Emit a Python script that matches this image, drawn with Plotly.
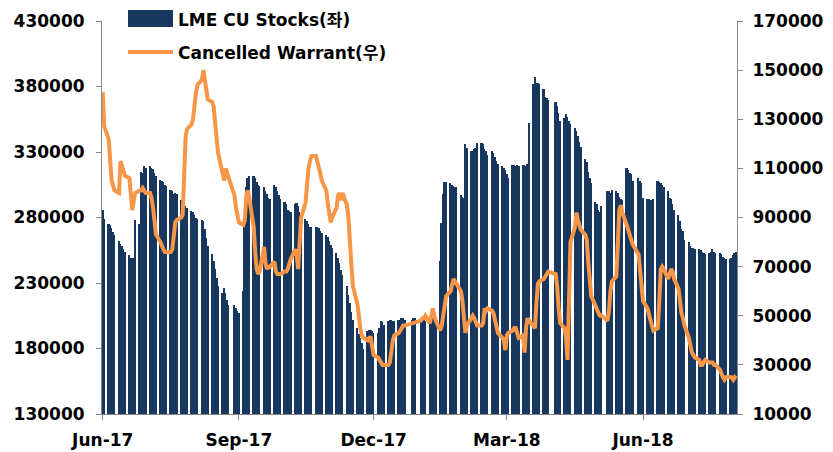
import pandas as pd
import plotly.graph_objects as go

# ---------------- data ----------------
START = "2017-06-01"
END = "2018-08-03"
# LME non-trading days inside the period
HOLIDAYS = ["2017-08-28", "2017-12-25", "2017-12-26", "2018-01-01",
            "2018-03-30", "2018-04-02", "2018-05-07", "2018-05-28"]

TICK_DATES = ["2017-06-01", "2017-09-01", "2017-12-01", "2018-03-01", "2018-06-01"]
TICK_LABELS = ["Jun-17", "Sep-17", "Dec-17", "Mar-18", "Jun-18"]
LEFT_TICKS = [130000, 180000, 230000, 280000, 330000, 380000, 430000]
RIGHT_TICKS = [10000, 30000, 50000, 70000, 90000, 110000, 130000, 150000, 170000]

SERIES_NAMES = ["LME CU Stocks(좌)", "Cancelled Warrant(우)"]

# LME copper stocks, thousand tonnes, one value per trading day (one row per week)
STOCKS_K = [
    286, 279,
    275, 274, 272, 269, 267,
    262, 260, 258, 256, 254,
    251, 249, 249, 249, 278,
    275, 315, 314, 319, 318,
    319, 318, 317, 314, 312,
    309, 308, 307, 305, 304,
    301, 300, 298, 299, 298,
    293, 292, 290, 289, 287,
    285, 284, 282, 280, 279,
    278, 277, 271, 264, 258,
    252, 247, 241, 234, 228,
    222, 226, 222, 217, 213,
    213, 211, 209, 207,
    224, 280, 303, 310, 312,
    312, 310, 307, 305, 304,
    303, 300, 298, 295, 294,
    305, 303, 300, 297, 294,
    292, 290, 286, 285, 284,
    290, 291, 289, 284, 282,
    279, 277, 275, 273, 273,
    273, 273, 272, 270, 268,
    267, 265, 262, 259, 257,
    253, 249, 245, 240, 236,
    228, 221, 215, 208, 202,
    196, 191, 188, 184, 180,
    193, 194, 194, 193, 192,
    192, 196, 201, 200, 198,
    201, 202, 202, 201, 201,
    202, 202, 203, 203, 202,
    202, 203, 203,
    202, 203, 203, 201,
    201, 203, 204, 202, 202,
    247, 276, 298, 307, 307,
    306, 305, 304, 303, 303,
    297, 296, 295, 336, 333,
    331, 331, 332, 333, 337,
    337, 336, 332, 331, 328,
    331, 329, 326, 323, 321,
    319, 318, 316, 313, 310,
    320, 320, 319, 320, 319,
    320, 320, 319, 321, 352,
    382, 387, 383, 383, 382,
    378, 372, 371, 370,
    368, 365, 360, 354,
    356, 359, 357, 354, 351,
    348, 346, 342, 338, 334,
    325, 322, 315, 310, 306,
    292, 290, 286, 284, 289,
    300, 300, 299, 301,
    300, 299, 296, 294, 293,
    318, 316, 314, 313, 308,
    310, 308, 306, 295,
    294, 294, 293, 293, 294,
    308, 307, 306, 305, 303,
    300, 295, 294, 290, 286,
    282, 277, 271, 270, 263,
    261, 258, 257, 257, 256,
    256, 255, 254, 253, 252,
    253, 254, 256, 254, 253,
    253, 252, 250, 249, 248,
    248, 249, 251, 253, 254,
]

# Cancelled warrants, thousand tonnes, one value per trading day (one row per week)
WARRANTS_K = [
    141, 127,
    122, 113, 105, 103, 101,
    100, 113, 111, 109, 107,
    106, 101, 93, 97, 100,
    101, 101, 102, 101, 100,
    100, 98, 94, 88, 83,
    80, 78, 77, 76, 76,
    76, 77, 85, 88, 89,
    90, 91, 110, 123, 126,
    128, 130, 137, 141, 144,
    146, 150, 146, 141, 138,
    137, 135, 128, 122, 116,
    108, 105, 110, 108, 106,
    99, 94, 90, 88,
    87, 89, 99, 101, 98,
    86, 76, 69, 67, 68,
    78, 71, 69, 70, 70,
    72, 68, 67, 67, 67,
    68, 68, 69, 71, 73,
    77, 75, 69, 80, 90,
    96, 105, 110, 113, 115,
    115, 113, 110, 108, 105,
    101, 96, 92, 88, 90,
    94, 99, 100, 97, 100,
    95, 90, 80, 70, 62,
    55, 49, 45, 42, 41,
    40, 41, 41, 36, 34,
    33, 32, 31, 30, 30,
    30, 31, 36, 40, 42,
    43, 44, 45, 46, 46,
    47, 47, 47,
    48, 49, 49, 50,
    47, 50, 53, 50, 48,
    44, 46, 50, 56, 58,
    60, 63, 65, 64, 63,
    60, 56, 50, 43, 46,
    49, 50, 49, 47, 46,
    46, 47, 53, 52, 53,
    52, 51, 48, 44, 43,
    41, 40, 36, 42, 43,
    44, 45, 45, 43, 41,
    42, 35, 45, 49, 48,
    46, 45, 55, 63, 64,
    65, 66, 67, 68,
    67, 62, 53, 47,
    45, 41, 32, 64, 80,
    86, 92, 89, 87, 85,
    83, 81, 72, 64, 58,
    54, 52, 51, 50, 50,
    48, 52, 60, 64,
    66, 80, 93, 95, 92,
    87, 85, 84, 82, 79,
    75, 69, 62, 56,
    53, 50, 48, 46, 44,
    45, 56, 69, 70, 69,
    65, 68, 69, 68, 65,
    61, 55, 51, 49, 46,
    41, 37, 35, 34, 33,
    32, 30, 30, 31, 32,
    31, 31, 31, 30, 30,
    28, 26, 25, 24, 25,
    25, 25, 24, 25, 24.5,
]

# ---------------- build ----------------
dates = pd.bdate_range(START, END)
dates = dates[~dates.isin(pd.to_datetime(HOLIDAYS))]
n = min(len(dates), len(STOCKS_K), len(WARRANTS_K))
dates = dates[:n]
stocks = [v * 1000 for v in STOCKS_K[:n]]
warrants = [v * 1000 for v in WARRANTS_K[:n]]

NAVY = "#17375E"
ORANGE = "#F79646"
GREY = "#868686"
FONT = "DejaVu Sans, Noto Sans CJK KR, sans-serif"
DAY_MS = 86400000

fig = go.Figure()
fig.add_trace(go.Bar(
    x=dates, y=stocks, width=DAY_MS * 1.15, name=SERIES_NAMES[0],
    marker=dict(color=NAVY, line=dict(width=0)), showlegend=False,
))
fig.add_trace(go.Scatter(
    x=dates, y=warrants, yaxis="y2", mode="lines", name=SERIES_NAMES[1],
    line=dict(color=ORANGE, width=4), showlegend=False,
))

x0 = pd.Timestamp(START) - pd.Timedelta(hours=12)
x1 = pd.Timestamp(END) + pd.Timedelta(hours=12)

axis_common = dict(
    showgrid=False, zeroline=False, showline=True, linecolor=GREY, linewidth=1,
    ticks="outside", ticklen=5, tickcolor=GREY, tickwidth=1, automargin=False,
    tickfont=dict(family=FONT, size=17, color="black", weight="bold"),
)

# the page adds an 8 px body margin, so the figure is 8 px smaller and margins shifted
fig.update_layout(
    width=825, height=444,
    margin=dict(l=94, r=96, t=13, b=38, autoexpand=False),
    paper_bgcolor="white", plot_bgcolor="white",
    bargap=0,
    xaxis=dict(type="date", range=[x0, x1], tickvals=TICK_DATES, ticktext=TICK_LABELS,
               ticklabelstandoff=6, **axis_common),
    yaxis=dict(range=[130000, 430000], tickvals=LEFT_TICKS,
               ticktext=[str(v) for v in LEFT_TICKS], ticklabelstandoff=8, **axis_common),
    yaxis2=dict(range=[10000, 170000], tickvals=RIGHT_TICKS, overlaying="y", side="right",
                ticktext=[str(v) for v in RIGHT_TICKS], ticklabelstandoff=6, **axis_common),
    showlegend=False,
)

# legend drawn manually (large swatches like the original); page-pixel helpers
PW, PH = 635.0, 393.0
def px(x):
    return (x - 102) / PW
def py(y):
    return (414 - y) / PH

fig.add_shape(type="rect", xref="paper", yref="paper",
              x0=px(128), x1=px(173), y0=py(27), y1=py(10),
              fillcolor=NAVY, line=dict(width=0))
fig.add_shape(type="line", xref="paper", yref="paper",
              x0=px(128), x1=px(173), y0=py(52), y1=py(52),
              line=dict(color=ORANGE, width=4))
fig.add_annotation(xref="paper", yref="paper", x=px(176), y=py(20), text=SERIES_NAMES[0],
                   showarrow=False, xanchor="left", yanchor="middle",
                   font=dict(family=FONT, size=17, color="black", weight="bold"))
fig.add_annotation(xref="paper", yref="paper", x=px(176), y=py(53), text=SERIES_NAMES[1],
                   showarrow=False, xanchor="left", yanchor="middle",
                   font=dict(family=FONT, size=17, color="black", weight="bold"))

fig.write_html("out.html")
